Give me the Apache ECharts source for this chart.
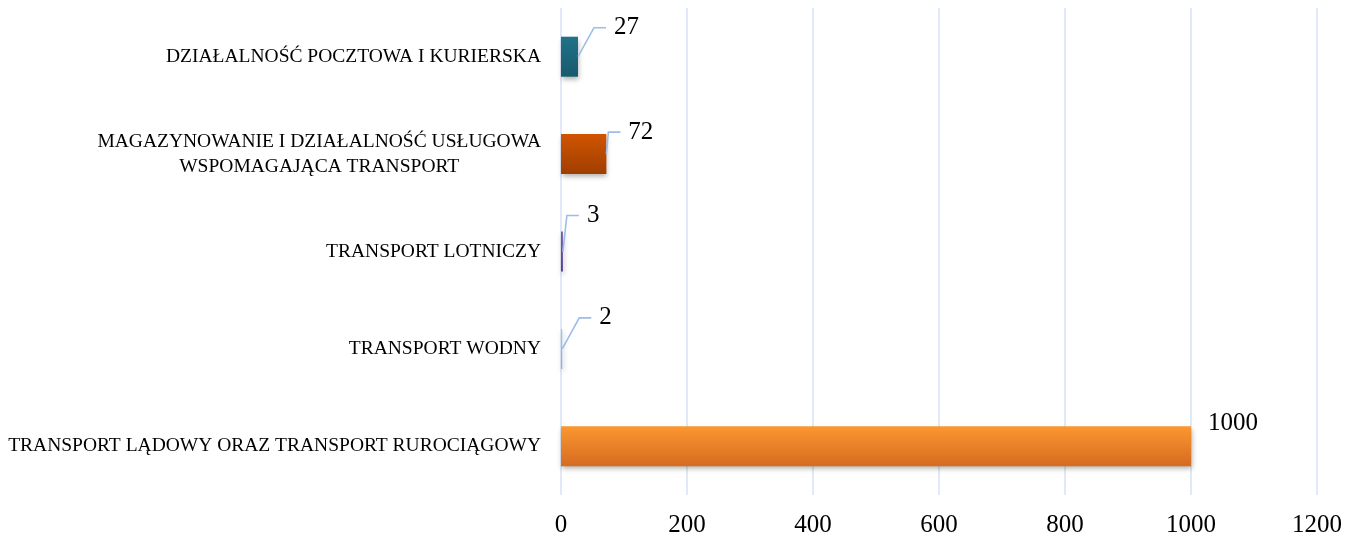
<!DOCTYPE html>
<html>
<head>
<meta charset="utf-8">
<script src="https://cdn.jsdelivr.net/npm/echarts@6/dist/echarts.min.js"></script>
<style>html,body{margin:0;padding:0;background:#fff;}#c{width:1359px;height:538px;}</style>
</head>
<body>
<div id="c"></div>
<script>
const categories = [
  'TRANSPORT LĄDOWY ORAZ TRANSPORT RUROCIĄGOWY',
  'TRANSPORT WODNY',
  'TRANSPORT LOTNICZY',
  'MAGAZYNOWANIE I DZIAŁALNOŚĆ USŁUGOWA\nWSPOMAGAJĄCA TRANSPORT',
  'DZIAŁALNOŚĆ POCZTOWA I KURIERSKA'
];
const values = [1000, 2, 3, 72, 27];
const xTicks = [0, 200, 400, 600, 800, 1000, 1200];

// styling only
const barColors = [
  ['#fb9731', '#d56b20'],
  ['#9cc8ee', '#7fb3e0'],
  ['#8059a8', '#5a3a8a'],
  ['#d05500', '#a03e00'],
  ['#217289', '#175a6c']
];
// label leader offsets [dx, dy, drawLine]
const leaderStyle = [[17, -23, false], [17, -31, true], [4, -36, true], [2, -22, true], [16, -29, true]];

const font = '"Liberation Serif", "DejaVu Serif", serif';
const chart = echarts.init(document.getElementById('c'));
chart.setOption({
  animation: false,
  grid: { left: 561, right: 42, top: 8, bottom: 43, containLabel: false },
  xAxis: {
    type: 'value', min: xTicks[0], max: xTicks[xTicks.length - 1], interval: 200,
    axisLine: { show: false }, axisTick: { show: false },
    splitLine: { show: true, lineStyle: { color: '#d4e2f4', width: 1.5 } },
    axisLabel: { fontFamily: font, fontSize: 25, color: '#000', margin: 18,
      formatter: function (v) { return String(v); } }
  },
  yAxis: {
    type: 'category', data: categories,
    axisLine: { show: false }, axisTick: { show: false },
    axisLabel: {
      margin: 20, color: '#000', fontFamily: font, fontSize: 19.5, align: 'right',
      formatter: function (v) { return v.split('\n').map(function (l) { return '{c|' + l + '}'; }).join('\n'); },
      rich: { c: { align: 'center', fontFamily: font, fontSize: 19.5, color: '#000', lineHeight: 25 } }
    }
  },
  series: [{
    type: 'bar',
    barWidth: 40,
    data: values.map(function (v, i) {
      return {
        value: v,
        itemStyle: {
          color: new echarts.graphic.LinearGradient(0, 0, 0, 1, [
            { offset: 0, color: barColors[i][0] },
            { offset: 1, color: barColors[i][1] }
          ]),
          shadowColor: 'rgba(0,0,0,0.3)', shadowBlur: 5, shadowOffsetX: 1, shadowOffsetY: 3
        }
      };
    })
  }, {
    type: 'custom',
    clip: false,
    z: 5,
    data: values.map(function (v, i) { return [v, i]; }),
    encode: { x: 0, y: 1 },
    renderItem: function (params, api) {
      const i = params.dataIndex;
      const p = api.coord([api.value(0), api.value(1)]);
      const o = leaderStyle[i];
      const ex = p[0] + o[0], ey = p[1] + o[1];
      const children = [];
      let tx = ex;
      if (o[2]) {
        children.push({
          type: 'polyline',
          shape: { points: [p, [ex, ey], [ex + 12, ey]] },
          style: { stroke: '#9dbde8', lineWidth: 1.6, fill: null }
        });
        tx = ex + 12 + 8;
      }
      children.push({
        type: 'text',
        style: { text: String(api.value(0)), x: tx, y: ey, fill: '#000',
          font: '25px ' + font, textAlign: 'left', textVerticalAlign: 'middle' }
      });
      return { type: 'group', children: children };
    }
  }]
});
</script>
</body>
</html>
